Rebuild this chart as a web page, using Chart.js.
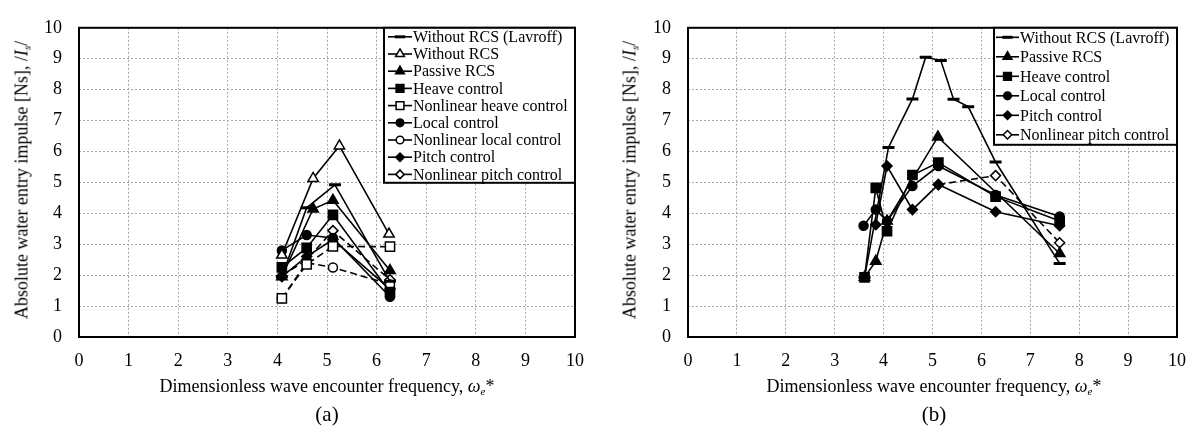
<!DOCTYPE html>
<html lang="en">

<head>
    <meta charset="UTF-8" />
    <title>Water entry impulse vs encounter frequency</title>
    <script src="https://cdn.jsdelivr.net/npm/chart.js"></script>
    <style>
        body {
            margin: 0;
            background: #fff;
            font-family: 'Liberation Serif', 'Times New Roman', serif;
            color: #000;
        }

        #wrap {
            position: relative;
            width: 1199px;
            height: 434px;
            overflow: hidden;
        }

        .panel {
            position: absolute;
            top: 0;
        }

        .ytitle {
            position: absolute;
            font-size: 18px;
            white-space: nowrap;
            transform: translate(-50%, -50%) rotate(-90deg);
        }

        .xtitle {
            position: absolute;
            font-size: 18px;
            white-space: nowrap;
            transform: translate(-50%, -50%);
        }

        .caption {
            position: absolute;
            font-size: 21px;
            transform: translate(-50%, -50%);
        }

        sub {
            font-size: 11px;
            vertical-align: -3px;
        }
    </style>
</head>

<body>
    <div id="wrap">
        <canvas id="chartA" class="panel" width="600" height="434" style="left:0"></canvas>
        <canvas id="chartB" class="panel" width="599" height="434" style="left:600px"></canvas>

        <div class="ytitle" style="left:22px; top:180px">Absolute water entry impulse [Ns], /<i>I<sub>s</sub></i>/</div>
        <div class="ytitle" style="left:630px; top:180px">Absolute water entry impulse [Ns], /<i>I<sub>s</sub></i>/</div>
        <div class="xtitle" style="left:327px; top:386px">Dimensionless wave encounter frequency, <i>ω<sub>e</sub></i>*</div>
        <div class="xtitle" style="left:934px; top:386px">Dimensionless wave encounter frequency, <i>ω<sub>e</sub></i>*</div>
        <div class="caption" style="left:327px; top:414px">(a)</div>
        <div class="caption" style="left:934px; top:414px">(b)</div>
    </div>

    <script>
        // ---- panel (a) ----
        const aLavroffX = [4.09, 4.59, 5.16, 6.27];
        const aLavroffY = [1.95, 4.18, 4.92, 1.8];
        const aNoRcsX = [4.09, 4.72, 5.25, 6.25];
        const aNoRcsY = [2.65, 5.13, 6.18, 3.33];
        const aPassiveX = [4.09, 4.72, 5.12, 6.27];
        const aPassiveY = [1.95, 4.14, 4.42, 2.15];
        const aHeaveX = [4.09, 4.59, 5.12, 6.27];
        const aHeaveY = [2.25, 2.88, 3.95, 1.45];
        const aNlHeaveX = [4.09, 4.59, 5.12, 6.27];
        const aNlHeaveY = [1.25, 2.35, 2.93, 2.92];
        const aLocalX = [4.09, 4.59, 5.12, 6.27];
        const aLocalY = [2.8, 3.3, 3.2, 1.3];
        const aNlLocalX = [4.09, 4.59, 5.12, 6.27];
        const aNlLocalY = [1.25, 2.4, 2.25, 1.7];
        const aPitchX = [4.09, 4.59, 5.12, 6.27];
        const aPitchY = [1.95, 2.6, 3.15, 1.55];
        const aNlPitchX = [4.09, 4.59, 5.12, 6.27];
        const aNlPitchY = [1.98, 2.5, 3.44, 1.85];

        // ---- panel (b) ----
        const bLavroffX = [3.61, 4.10, 4.59, 4.86, 5.17, 5.43, 5.73, 6.29, 7.6];
        const bLavroffY = [1.93, 6.13, 7.70, 9.05, 8.94, 7.69, 7.45, 5.66, 2.38];
        const bPassiveX = [3.61, 3.84, 4.07, 5.11, 7.6];
        const bPassiveY = [1.93, 2.45, 3.75, 6.47, 2.7];
        const bHeaveX = [3.61, 3.84, 4.07, 4.59, 5.12, 6.29, 7.6];
        const bHeaveY = [1.93, 4.82, 3.42, 5.24, 5.64, 4.54, 3.75];
        const bLocalX = [3.59, 3.84, 4.07, 4.59, 5.12, 6.29, 7.6];
        const bLocalY = [3.6, 4.12, 3.75, 4.88, 5.53, 4.59, 3.9];
        const bPitchX = [3.84, 4.07, 4.59, 5.12, 6.29, 7.6];
        const bPitchY = [3.63, 5.53, 4.12, 4.93, 4.05, 3.6];
        const bNlPitchX = [5.12, 6.29, 7.6];
        const bNlPitchY = [4.93, 5.22, 3.05];

        const axisTicks = [0, 1, 2, 3, 4, 5, 6, 7, 8, 9, 10];
        const serif = "'Liberation Serif', 'Times New Roman', serif";

        const pts = (xs, ys) => xs.map((x, i) => ({ x: x, y: ys[i] }));

        // marker look for every series name
        const styles = {
            "Without RCS (Lavroff)": { pointStyle: "line", pointRadius: 6, pointBorderWidth: 3, fill: "#000" },
            "Without RCS": { pointStyle: "triangle", pointRadius: 6, fill: "#fff" },
            "Passive RCS": { pointStyle: "triangle", pointRadius: 6, fill: "#000" },
            "Heave control": { pointStyle: "rect", pointRadius: 6.5, fill: "#000" },
            "Nonlinear heave control": { pointStyle: "rect", pointRadius: 6.5, fill: "#fff", dashed: true },
            "Local control": { pointStyle: "circle", pointRadius: 4.5, fill: "#000" },
            "Nonlinear local control": { pointStyle: "circle", pointRadius: 4.5, fill: "#fff", dashed: true },
            "Pitch control": { pointStyle: "rectRot", pointRadius: 5, fill: "#000" },
            "Nonlinear pitch control": { pointStyle: "rectRot", pointRadius: 5, fill: "#fff", dashed: true }
        };

        function series(label, xs, ys) {
            const s = styles[label];
            return {
                label: label,
                data: pts(xs, ys),
                showLine: true,
                borderColor: "#000",
                borderWidth: 1.6,
                borderDash: s.dashed ? [7, 4] : [],
                pointStyle: s.pointStyle,
                pointRadius: s.pointRadius,
                pointHoverRadius: s.pointRadius,
                pointBackgroundColor: s.fill,
                pointBorderColor: "#000",
                pointBorderWidth: s.pointBorderWidth || 1.5
            };
        }

        // framed legend in the upper right corner of the plot
        const boxLegend = {
            id: "boxLegend",
            afterDraw(chart, args, o) {
                const ctx = chart.ctx;
                const area = chart.chartArea;
                const left = area.right - o.width;
                const top = area.top;
                ctx.save();
                ctx.fillStyle = "#fff";
                ctx.fillRect(left, top, o.width, o.height);
                ctx.lineWidth = 2;
                ctx.strokeStyle = "#000";
                ctx.strokeRect(left, top, o.width, o.height);

                ctx.font = o.fontSize + "px " + serif;
                ctx.textBaseline = "middle";
                chart.data.datasets.forEach((ds, i) => {
                    const y = top + o.first + i * o.rowH;
                    ctx.lineWidth = 1.6;
                    ctx.setLineDash([]);
                    ctx.beginPath();
                    ctx.moveTo(left + o.lineFrom, y);
                    ctx.lineTo(left + o.lineTo, y);
                    ctx.stroke();
                    ctx.lineWidth = ds.pointBorderWidth;
                    ctx.fillStyle = ds.pointBackgroundColor;
                    Chart.helpers.drawPoint(ctx, {
                        pointStyle: ds.pointStyle,
                        radius: ds.pointRadius * 0.85,
                        rotation: 0,
                        borderWidth: ds.pointBorderWidth
                    }, left + (o.lineFrom + o.lineTo) / 2, y);
                    ctx.fillStyle = "#000";
                    ctx.fillText(ds.label, left + o.textX, y + 1);
                });
                ctx.restore();
            }
        };

        // black frame around the plot area
        const frame = {
            id: "frame",
            afterDatasetsDraw(chart) {
                const a = chart.chartArea;
                const ctx = chart.ctx;
                ctx.save();
                ctx.lineWidth = 2;
                ctx.strokeStyle = "#000";
                ctx.strokeRect(a.left, a.top, a.right - a.left, a.bottom - a.top);
                ctx.restore();
            }
        };

        function makeChart(id, datasets, yWidth, rightPad, legendOpts) {
            return new Chart(document.getElementById(id), {
                type: "scatter",
                data: { datasets: datasets },
                plugins: [frame, boxLegend],
                options: {
                    responsive: false,
                    animation: false,
                    layout: { padding: { left: 0, top: 18, right: rightPad, bottom: 0 } },
                    scales: {
                        x: {
                            type: "linear",
                            min: 0,
                            max: 10,
                            afterBuildTicks: s => { s.ticks = axisTicks.map(v => ({ value: v })); },
                            afterFit: s => { s.height = 97; },
                            grid: { color: "#a6a6a6", lineWidth: 1, drawTicks: false },
                            border: { display: false, dash: [2, 2] },
                            ticks: { color: "#000", padding: 13, font: { family: serif, size: 18 } }
                        },
                        y: {
                            type: "linear",
                            min: 0,
                            max: 10,
                            afterBuildTicks: s => { s.ticks = axisTicks.map(v => ({ value: v })); },
                            afterFit: s => { s.width = yWidth; },
                            grid: { color: "#a6a6a6", lineWidth: 1, drawTicks: false },
                            border: { display: false, dash: [2, 2] },
                            ticks: { color: "#000", padding: 17, font: { family: serif, size: 18 } }
                        }
                    },
                    plugins: {
                        legend: { display: false },
                        tooltip: { enabled: false },
                        boxLegend: legendOpts
                    }
                }
            });
        }

        makeChart("chartA", [
            series("Without RCS (Lavroff)", aLavroffX, aLavroffY),
            series("Without RCS", aNoRcsX, aNoRcsY),
            series("Passive RCS", aPassiveX, aPassiveY),
            series("Heave control", aHeaveX, aHeaveY),
            series("Nonlinear heave control", aNlHeaveX, aNlHeaveY),
            series("Local control", aLocalX, aLocalY),
            series("Nonlinear local control", aNlLocalX, aNlLocalY),
            series("Pitch control", aPitchX, aPitchY),
            series("Nonlinear pitch control", aNlPitchX, aNlPitchY)
        ], 79, 25, { width: 191, height: 155, first: 9, rowH: 17.2, lineFrom: 4, lineTo: 28, textX: 29, fontSize: 16 });

        makeChart("chartB", [
            series("Without RCS (Lavroff)", bLavroffX, bLavroffY),
            series("Passive RCS", bPassiveX, bPassiveY),
            series("Heave control", bHeaveX, bHeaveY),
            series("Local control", bLocalX, bLocalY),
            series("Pitch control", bPitchX, bPitchY),
            series("Nonlinear pitch control", bNlPitchX, bNlPitchY)
        ], 88, 19, { width: 183, height: 117, first: 9.5, rowH: 19.5, lineFrom: 2, lineTo: 25, textX: 26, fontSize: 16 });
    </script>
</body>

</html>
